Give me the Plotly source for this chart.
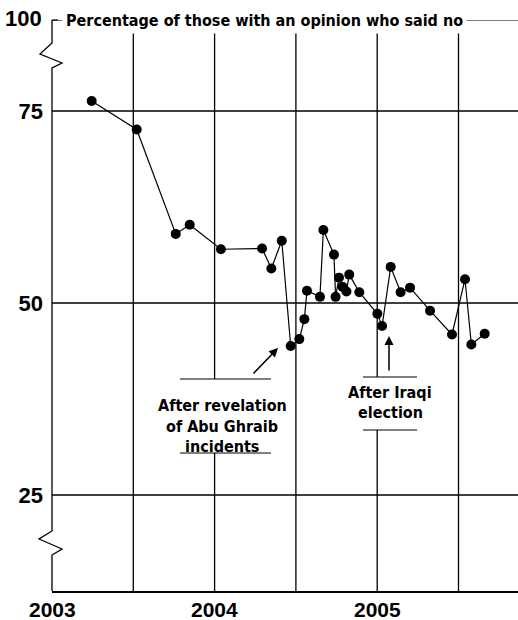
import plotly.graph_objects as go

# ---- data (decimal year, percent saying no) ----
dates = [2003.244, 2003.521, 2003.761, 2003.847, 2004.039, 2004.292, 2004.349,
         2004.413, 2004.468, 2004.521, 2004.552, 2004.568, 2004.648, 2004.669,
         2004.734, 2004.744, 2004.765, 2004.787, 2004.811, 2004.828, 2004.890,
         2005.001, 2005.030, 2005.083, 2005.144, 2005.202, 2005.325, 2005.460,
         2005.540, 2005.579, 2005.661]
values = [76.3, 72.6, 59.0, 60.2, 57.0, 57.1, 54.5, 58.1, 44.4, 45.3, 47.9,
          51.6, 50.8, 59.5, 56.3, 50.8, 53.3, 52.1, 51.5, 53.7, 51.4, 48.6,
          47.0, 54.7, 51.4, 52.0, 49.0, 45.9, 53.1, 44.6, 46.0]

year_ticks = [2003, 2004, 2005]
year_labels = ["2003", "2004", "2005"]
y_grid = [25, 50, 75]
y_labels = ["25", "50", "75"]
top_label = "100"
v_grid = [2003.5, 2004, 2004.5, 2005, 2005.5]

title_text = "Percentage of those with an opinion who said no"
note1 = ["After revelation", "of Abu Ghraib", "incidents"]
note2 = ["After Iraqi", "election"]

# ---- geometry (window pixels; body margin removed in the page) ----
W, H = 518, 620
PL, PR, PT, PB = 52, 518, 20, 591          # plot box in pixels
ML, MT, MR, MB = PL, PT, W - PR, H - PB
X0, PPY = 2003.0, 162.6
Y_BOT, Y_TOP = 12.5, 86.85
def xd(px):
    return X0 + (px - PL) / PPY
def yd(py):
    return 50 + (303 - py) / 7.68
def xp(px):
    return (px - PL) / (PR - PL)
def yp(py):
    return (PB - py) / (PB - PT)

X_MAX = xd(PR)
NUMF = "Liberation Sans"
NARROW = "DejaVu Sans Condensed, Liberation Sans"

fig = go.Figure()
fig.add_trace(go.Scatter(
    x=dates, y=values, mode="lines+markers",
    line=dict(color="black", width=1.2),
    marker=dict(color="black", size=10),
    hoverinfo="skip", showlegend=False))

shapes = []
for v in y_grid:
    shapes.append(dict(type="line", xref="x", yref="y", x0=X0, x1=X_MAX, y0=v, y1=v,
                       line=dict(color="black", width=1.3), layer="below"))
shapes.append(dict(type="line", xref="x", yref="y", x0=X0, x1=X_MAX, y0=Y_TOP, y1=Y_TOP,
                   line=dict(color="black", width=1.2), layer="below"))
for v in v_grid:
    shapes.append(dict(type="line", xref="x", yref="y", x0=v, x1=v, y0=Y_BOT, y1=yd(27),
                       line=dict(color="black", width=1.3), layer="below"))
# y axis with break marks (paper coords so it isn't clipped)
pts = [(52, 20), (52, 43), (40, 54), (62, 63), (52, 68), (52, 531), (39, 539),
       (62, 549), (52, 555), (52, 591)]
path = "M " + " L ".join(f"{xp(a):.5f},{yp(b):.5f}" for a, b in pts)
shapes.append(dict(type="path", xref="paper", yref="paper", path=path,
                   line=dict(color="black", width=1.3), layer="above"))

def box(x0p, x1p, y0p, y1p):
    shapes.append(dict(type="rect", xref="x", yref="y", x0=xd(x0p), x1=xd(x1p),
                       y0=yd(y1p), y1=yd(y0p), fillcolor="white",
                       line=dict(width=0), layer="below"))
    for yy in (y0p, y1p):
        shapes.append(dict(type="line", xref="x", yref="y", x0=xd(x0p), x1=xd(x1p),
                           y0=yd(yy), y1=yd(yy), line=dict(color="black", width=1),
                           layer="below"))
box(180, 271, 379, 453)
box(363, 417, 377, 430)

annotations = []
annotations.append(dict(x=xd(62), y=Y_TOP, xref="x", yref="y", text="<b>" + title_text + "</b>",
                        showarrow=False, xanchor="left", yanchor="middle",
                        font=dict(family=NARROW, size=16, color="black"),
                        bgcolor="white", borderpad=3))
shapes.append(dict(type="line", xref="paper", yref="paper", x0=xp(52), x1=xp(58),
                   y0=yp(20), y1=yp(20), line=dict(color="black", width=1.2), layer="above"))
# "100" label at the broken top of the axis
annotations.append(dict(x=xp(44), y=yp(18), xref="paper", yref="paper",
                        text="<b>" + top_label + "</b>", showarrow=False,
                        xanchor="right", yanchor="middle",
                        font=dict(family=NUMF, size=22, color="black")))
# year labels
for t, lab in zip(year_ticks, year_labels):
    annotations.append(dict(x=t, y=yp(596), xref="x", yref="paper",
                            text="<b>" + lab + "</b>", showarrow=False,
                            xanchor="center", yanchor="top",
                            font=dict(family=NUMF, size=21, color="black")))

for txt, py in zip(note1, [405, 426, 446]):
    annotations.append(dict(x=xd(222), y=yd(py), xref="x", yref="y", text="<b>" + txt + "</b>",
                            showarrow=False, xanchor="center", yanchor="middle",
                            font=dict(family=NARROW, size=16, color="black")))
for txt, py in zip(note2, [392, 412]):
    annotations.append(dict(x=xd(390), y=yd(py), xref="x", yref="y", text="<b>" + txt + "</b>",
                            showarrow=False, xanchor="center", yanchor="middle",
                            font=dict(family=NARROW, size=16, color="black")))
annotations.append(dict(x=xd(278), y=yd(348), xref="x", yref="y", ax=-26, ay=27,
                        text="", showarrow=True, arrowhead=2, arrowsize=1.2,
                        arrowwidth=1.5, arrowcolor="black"))
annotations.append(dict(x=xd(389), y=yd(336), xref="x", yref="y", ax=0, ay=36,
                        text="", showarrow=True, arrowhead=2, arrowsize=1.2,
                        arrowwidth=1.5, arrowcolor="black"))

fig.update_layout(
    width=W, height=H,
    margin=dict(l=ML, r=MR, t=MT, b=MB, autoexpand=False),
    paper_bgcolor="white", plot_bgcolor="white",
    shapes=shapes, annotations=annotations,
    xaxis=dict(range=[X0, X_MAX], showgrid=False, zeroline=False, automargin=False,
               showline=True, linecolor="black", linewidth=1.5,
               tickvals=year_ticks, showticklabels=False, ticks=""),
    yaxis=dict(range=[Y_BOT, Y_TOP], showgrid=False, zeroline=False, showline=False,
               automargin=False,
               tickvals=y_grid, ticktext=["<b>" + t + "</b>" for t in y_labels],
               ticks="", ticklabelstandoff=8,
               tickfont=dict(family=NUMF, size=22, color="black")),
)

fig.write_html("out.html", config={"displayModeBar": False},
               post_script="document.body.style.margin='0';")
